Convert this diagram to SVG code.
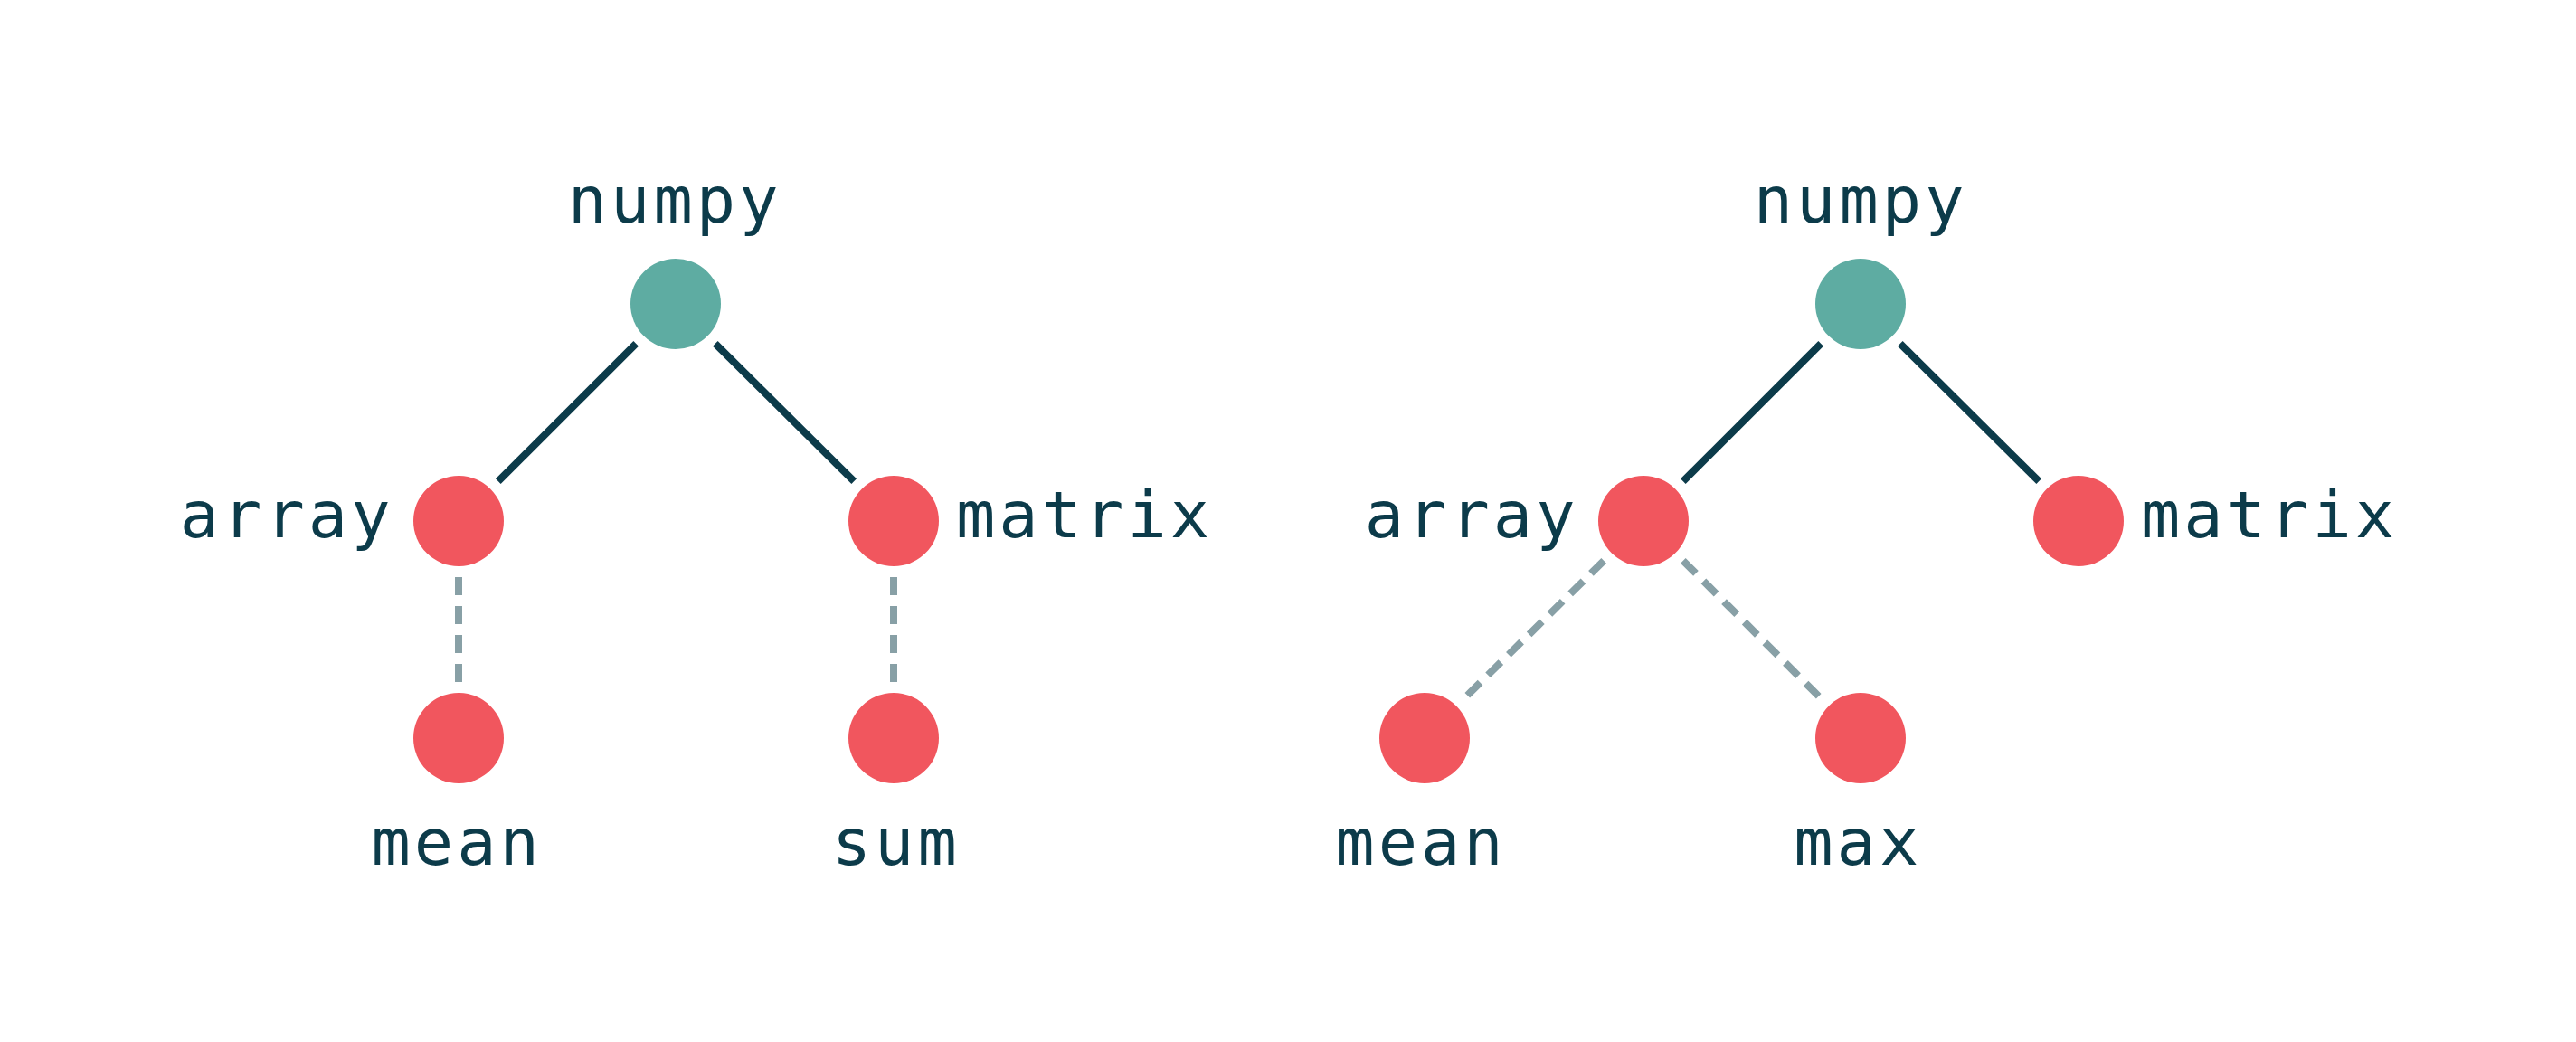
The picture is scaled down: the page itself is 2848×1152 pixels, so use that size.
<svg xmlns="http://www.w3.org/2000/svg" width="2848" height="1152" viewBox="0 0 2848 1152">
<style>
.root{fill:#5eaca2}
.leaf{fill:#f1565e}
.lbl{font-family:"DejaVu Sans Mono","Liberation Mono",monospace;font-size:72px;letter-spacing:4px;fill:#0c3b4a}
.solid{stroke:#0c3b4a;stroke-width:8;fill:none}
.dash{stroke:#88a0a6;stroke-width:8;fill:none;stroke-dasharray:20 12}
</style>
<rect width="2848" height="1152" fill="#ffffff"/>
<g id="connectors">
<line class="solid" x1="703.2" y1="379.8" x2="550.8" y2="532.2"/>
<line class="solid" x1="790.8" y1="379.8" x2="944.2" y2="532.2"/>
<line class="dash" x1="507" y1="638" x2="507" y2="754"/>
<line class="dash" x1="988" y1="638" x2="988" y2="754"/>
<line class="solid" x1="2013.2" y1="379.8" x2="1860.8" y2="532.2"/>
<line class="solid" x1="2100.8" y1="379.8" x2="2254.2" y2="532.2"/>
<line class="dash" x1="1773.2" y1="619.8" x2="1618.8" y2="772.2"/>
<line class="dash" x1="1860.8" y1="619.8" x2="2013.2" y2="772.2"/>
</g>
<g id="l-numpy"><circle class="root" cx="747" cy="336" r="50"/><text class="lbl" x="627.75" y="246">numpy</text></g>
<g id="l-array"><circle class="leaf" cx="507" cy="576" r="50"/><text class="lbl" x="198.75" y="594">array</text></g>
<g id="l-matrix"><circle class="leaf" cx="988" cy="576" r="50"/><text class="lbl" x="1057" y="594">matrix</text></g>
<g id="l-mean"><circle class="leaf" cx="507" cy="816" r="50"/><text class="lbl" x="410.5" y="956">mean</text></g>
<g id="l-sum"><circle class="leaf" cx="988" cy="816" r="50"/><text class="lbl" x="919.75" y="956">sum</text></g>
<g id="r-numpy"><circle class="root" cx="2057" cy="336" r="50"/><text class="lbl" x="1938.75" y="246">numpy</text></g>
<g id="r-array"><circle class="leaf" cx="1817" cy="576" r="50"/><text class="lbl" x="1508.75" y="594">array</text></g>
<g id="r-matrix"><circle class="leaf" cx="2298" cy="576" r="50"/><text class="lbl" x="2367" y="594">matrix</text></g>
<g id="r-mean"><circle class="leaf" cx="1575" cy="816" r="50"/><text class="lbl" x="1476.3" y="956">mean</text></g>
<g id="r-max"><circle class="leaf" cx="2057" cy="816" r="50"/><text class="lbl" x="1983.25" y="956">max</text></g>
</svg>
